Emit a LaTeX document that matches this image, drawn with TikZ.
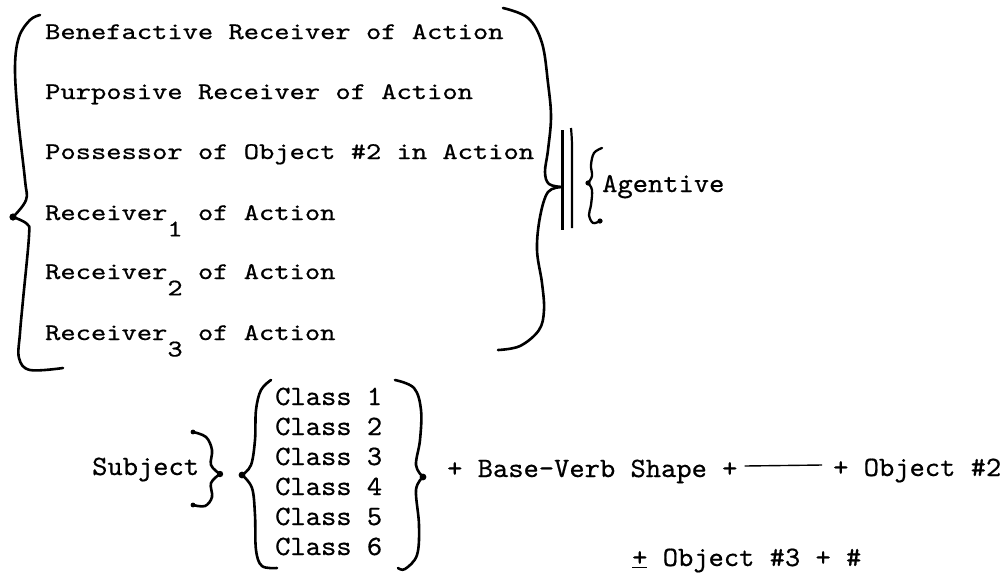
\documentclass[tikz,border=0pt]{standalone}
\usepackage{fontspec}
\newfontfamily\tw{lmmono10-regular.otf}[FakeBold=0.6]
\newcommand{\shortT}[1]{\scalebox{1}[0.82]{#1}}
\newcommand{\midT}[1]{\scalebox{1}[0.94]{#1}}
\newcommand{\lowT}[1]{\scalebox{1}[0.96]{#1}}
\tikzset{
  txt/.style={inner sep=0pt, anchor=base west, font=\tw\fontsize{29.1}{30}\selectfont},
  brace/.style={line width=2.6pt, line cap=round, line join=round},
  blobdot/.style={fill=black},
}
\begin{document}
\begin{tikzpicture}[x=1pt,y=-1pt]
\useasboundingbox (0,0) rectangle (1006,574);
% ---------- upper list ----------
\node[txt] (t1) at (45,39)  {\shortT{Benefactive Receiver of Action}};
\node[txt] (t2) at (45,99)  {\shortT{Purposive Receiver of Action}};
\node[txt] (t3) at (45,159) {\shortT{Possessor of Object \#2 in Action}};
\node[txt] (t4) at (45,220) {\shortT{Receiver\raisebox{-20pt}{1} of Action}};
\node[txt] (t5) at (45,279) {\shortT{Receiver\raisebox{-20pt}{2} of Action}};
\node[txt] (t6) at (45,340) {\shortT{Receiver\raisebox{-20pt}{3} of Action}};
% left big brace
\draw[brace] plot[smooth, tension=0.6] coordinates {(40,15) (30,20) (19,37) (15,67) (18,117) (25,180) (26,200) (13,217)};
\draw[brace] plot[smooth, tension=0.6] coordinates {(13,217) (27,224) (29,236) (23,300) (20,333) (19,358) (30,370) (63,368)};
\fill[blobdot] (13,217) circle (3.6pt);
% right big brace
\draw[brace] plot[smooth, tension=0.6] coordinates {(503,8) (528,18) (542,43) (548,83) (551,117) (548,150) (545,172) (549,184) (562,187)};
\draw[brace] plot[smooth, tension=0.6] coordinates {(562,187) (548,192) (540,217) (537,250) (542,283) (544,310) (539,330) (520,346) (498,350)};
% double bar
\draw[line width=2.6pt] (562.7,130) -- (562.7,230);
\draw[line width=2.2pt] (571,128) .. controls (572,140) .. (572,160) -- (572,228);
% Agentive brace
\draw[brace, line width=2.3pt] plot[smooth, tension=0.6] coordinates {(602,148) (594,153) (591,165) (592,176) (588,183)};
\draw[brace, line width=2.3pt] plot[smooth, tension=0.6] coordinates {(588,183) (592,190) (591,205) (589,215) (593,223) (600,221)};
\fill[blobdot] (588,183) circle (2.6pt);
\fill[blobdot] (600,221) circle (2.6pt);
\node[txt] (ag) at (602,192) {\midT{Agentive}};
% ---------- lower formula ----------
\node[txt] (subj) at (92,475) {\lowT{Subject}};
\draw[brace] plot[smooth, tension=0.6] coordinates {(193,432) (206,437) (212,450) (211,465) (220,474)};
\draw[brace] plot[smooth, tension=0.6] coordinates {(220,474) (211,483) (212,497) (205,506) (193,505)};
\fill[blobdot] (220,474) circle (3.2pt);
\fill[blobdot] (193,432) circle (2.4pt);
\fill[blobdot] (193,505) circle (2.4pt);
% classes (one text block)
\node[txt] (cls) at (275,405) {\lowT{\fontsize{29.1}{31.25}\selectfont\begin{tabular}[t]{@{}l@{}}Class 1\\Class 2\\Class 3\\Class 4\\Class 5\\Class 6\end{tabular}}};
% class left brace
\draw[brace] plot[smooth, tension=0.6] coordinates {(271,380) (261,390) (256,410) (255,440) (251,465) (242,475)};
\draw[brace] plot[smooth, tension=0.6] coordinates {(242,475) (252,488) (255,515) (256,550) (262,566) (277,568)};
\fill[blobdot] (242,475) circle (3.4pt);
% class right brace
\draw[brace] plot[smooth, tension=0.6] coordinates {(395,380) (414,388) (421,410) (420,440) (416,465) (423,477)};
\draw[brace] plot[smooth, tension=0.6] coordinates {(423,477) (416,490) (419,525) (417,555) (405,569) (398,568)};
\fill[blobdot] (423,477) circle (3.4pt);
% verb line
\node[txt] (bv) at (447,477) {\lowT{+ Base-Verb Shape +}};
\node[txt] (o2) at (833,476) {\lowT{+ Object \#2}};
\path (bv.base east) ++(7,-11) coordinate (l1);
\path (o2.base west) ++(-11,-11) coordinate (l2);
\draw[line width=1.4pt] (l1) -- (l2);
\node[txt] (o3) at (632,566) {\lowT{\underline{+} Object \#3 + \#}};
\end{tikzpicture}
\end{document}
